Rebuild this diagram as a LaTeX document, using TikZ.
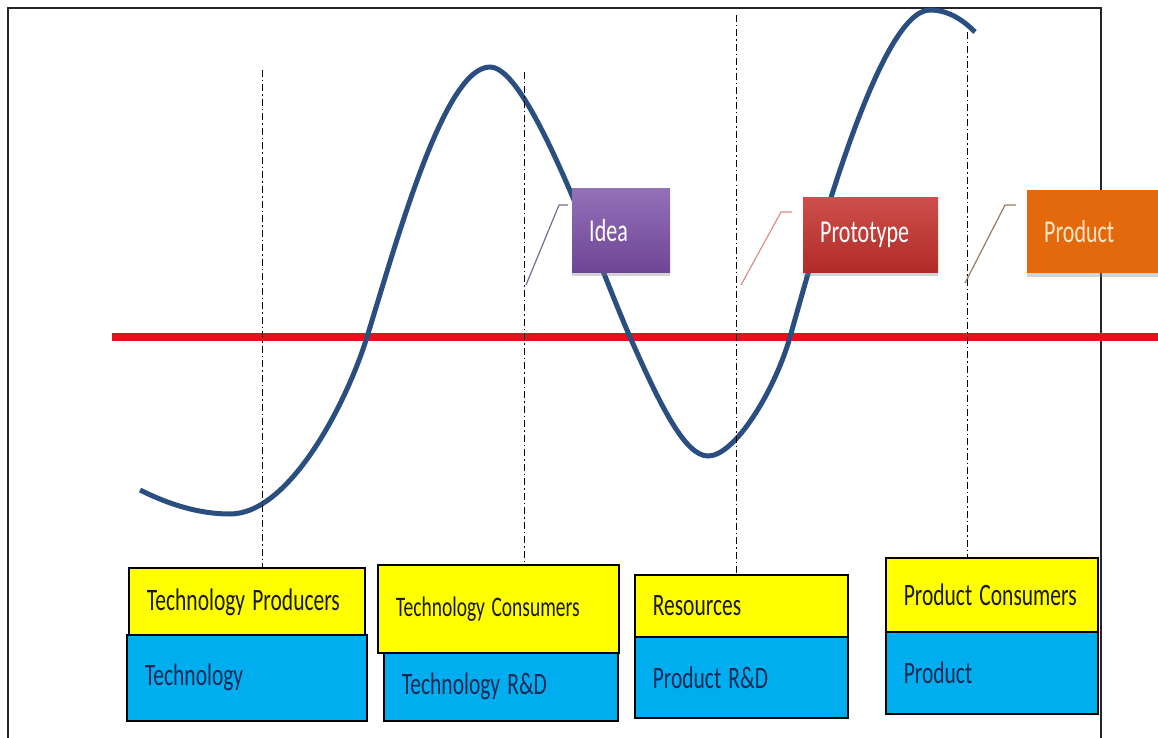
\documentclass[tikz,border=0pt]{standalone}
\usepackage{fontspec}
\setmainfont{Carlito}
\usetikzlibrary{shadows}

\definecolor{curveBlue}{HTML}{2B4E80}
\definecolor{lineRed}{HTML}{E8101A}
\definecolor{boxYellow}{HTML}{FFFF00}
\definecolor{boxBlue}{HTML}{00AEEF}
\definecolor{blueText}{HTML}{1B2A55}
\definecolor{ideaPurple}{HTML}{7A4DA6}
\definecolor{protoRed}{HTML}{C4302B}
\definecolor{prodOrange}{HTML}{E3690C}
\definecolor{prodText}{HTML}{FCE6C4}

\newcommand{\tallText}[1]{\scalebox{1}[1.45]{#1}}

\begin{document}
\begin{tikzpicture}[x=1pt,y=-1pt,
  lowbox/.style={draw=black, line width=1.6pt, anchor=north west, inner xsep=18pt,
    inner ysep=0pt, align=left, font=\fontsize{21.5}{24}\selectfont},
  yellowbox/.style={lowbox, fill=boxYellow, text=black!90},
  bluebox/.style={lowbox, fill=boxBlue, text=blueText},
  tagbox/.style={anchor=north west, inner xsep=17pt, inner ysep=0pt, align=left,
    font=\fontsize{22}{24}\selectfont,
    drop shadow={opacity=0.35, shadow xshift=0pt, shadow yshift=-4pt}},
  guide/.style={dash pattern=on 7pt off 3pt on 1.5pt off 3pt, line width=0.9pt},
  tagline/.style={line width=1.2pt}
]
\useasboundingbox (0,0) rectangle (1158,738);
\clip (0,0) rectangle (1158,738);

% frame
\draw[line width=1.8pt, black!85] (8,8) rectangle (1101,780);

% threshold line
\draw[lineRed, line width=8pt] (112,337) -- (1158,337);

% wave
\draw[curveBlue, line width=5pt] (140,490)
  .. controls (170,505) and (200,514) .. (230,514)
  .. controls (290,514) and (347,402) .. (367,337)
  .. controls (399,233) and (445,67) .. (490,67)
  .. controls (530,67) and (597,262) .. (630,337)
  .. controls (660,405) and (685,456) .. (708,456)
  .. controls (735,456) and (775,390) .. (790,337)
  .. controls (818,238) and (880,10) .. (930,10)
  .. controls (950,10) and (965,22) .. (975,32);

% bottom boxes
\node[yellowbox, text width=200pt, minimum height=69pt] (tp) at (128,567)
  {\tallText{Technology Producers}};
\node[bluebox, text width=204pt, minimum height=86pt] (tt) at (126,634)
  {\tallText{Technology}};
\node[yellowbox, text width=205pt, minimum height=88pt,
  font=\fontsize{19.5}{22}\selectfont] (tc) at (377,564)
  {\tallText{Technology Consumers}};
\node[bluebox, text width=198pt, minimum height=68pt] (trd) at (383,652)
  {\tallText{Technology R\&D}};
\node[yellowbox, text width=177pt, minimum height=62pt] (res) at (634,574)
  {\tallText{Resources}};
\node[bluebox, text width=177pt, minimum height=81pt] (prd) at (634,636)
  {\tallText{Product R\&D}};
\node[yellowbox, text width=176pt, minimum height=74pt] (pc) at (885,557)
  {\tallText{Product Consumers}};
\node[bluebox, text width=176pt, minimum height=82pt] (pp) at (885,631)
  {\tallText{Product}};

% guides
\coordinate (g1) at (262,70);
\coordinate (g2) at (524,72);
\coordinate (g3) at (736,15);
\coordinate (g4) at (967,32);
\draw[guide] (g1) -- (g1 |- tp.north);
\draw[guide] (g2) -- (g2 |- tc.north);
\draw[guide] (g3) -- (g3 |- res.north);
\draw[guide] (g4) -- (g4 |- pc.north);

% callouts
\node[tagbox, top color=ideaPurple!80!white, bottom color=ideaPurple!90!black,
  text=white, text width=64pt, minimum height=84pt] (idea) at (572,188)
  {\tallText{Idea}};
\node[tagbox, top color=protoRed!85!white, bottom color=protoRed!90!black,
  text=white, text width=101pt, minimum height=75pt] (proto) at (803,197)
  {\tallText{Prototype}};
\node[tagbox, fill=prodOrange, text=prodText, text width=116pt,
  minimum height=83pt] (prod) at (1027,190)
  {\tallText{Product}};

\coordinate (c1) at (526,285);
\coordinate (c2) at (741,285);
\coordinate (c3) at (965,283);
\draw[tagline, draw=ideaPurple!45!gray] (c1) -- ++(33,-80) -- ++(9,0);
\draw[tagline, draw=protoRed!55!white] (c2) -- ++(40,-73) -- ++(11,0);
\draw[tagline, draw=prodOrange!30!gray] (c3) -- ++(40,-78) -- ++(11,0);
\end{tikzpicture}
\end{document}
